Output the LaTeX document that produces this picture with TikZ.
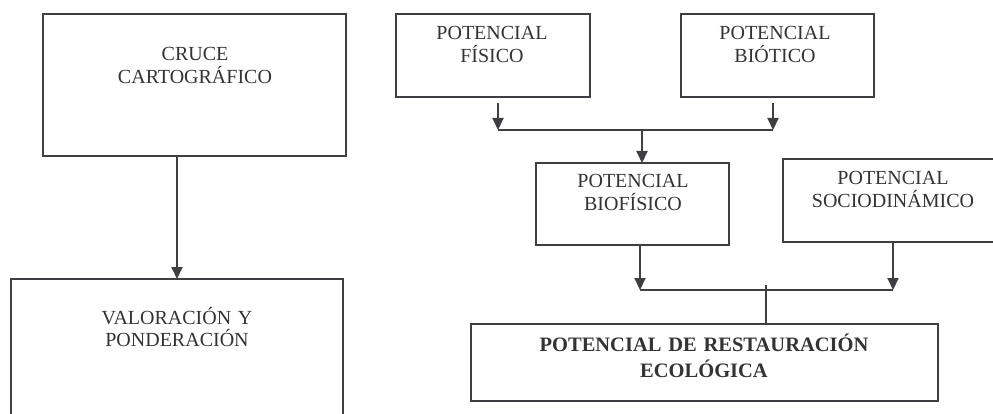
\documentclass[tikz,border=0pt]{standalone}
\usepackage{fontspec}
\setmainfont{Liberation Serif}
\usetikzlibrary{arrows.meta}
\definecolor{ln}{HTML}{3E3F43}
\definecolor{tx}{HTML}{333336}
\begin{document}
\begin{tikzpicture}[x=1pt,y=-1pt,
  box/.style={draw=ln, line width=2pt, outer sep=0pt, inner sep=0pt},
  txt/.style={text=tx, font=\fontsize{20}{22.5}\selectfont, align=center,
    anchor=base, inner sep=0pt, text width=260pt},
  btxt/.style={text=tx, font=\fontsize{20.5}{26}\selectfont\bfseries, align=center,
    anchor=base, inner sep=0pt, text width=440pt},
  conn/.style={draw=ln, line width=2pt},
  arr/.style={conn, -{Triangle[width=11pt,length=12pt]}}]
\useasboundingbox (0,0) rectangle (993,414);
% boxes
\node[box, minimum width=303pt, minimum height=142pt] (cruce) at (194.5,85) {};
\node[box, minimum width=332pt, minimum height=160pt] (valor) at (177,359) {};
\node[box, minimum width=194pt, minimum height=83pt] (fisico) at (493,55.5) {};
\node[box, minimum width=193pt, minimum height=83pt] (biotico) at (777.5,55.5) {};
\node[box, minimum width=193pt, minimum height=82pt] (biofis) at (632.5,204) {};
\node[box, minimum width=222pt, minimum height=83pt] (socio) at (894,200.5) {};
\node[box, minimum width=467pt, minimum height=77pt] (restaur) at (704.5,362.5) {};
% texts
\node[txt] (cruceT) at (195,61) {CRUCE\\CARTOGRÁFICO};
\node[txt] (valorT) at (177,324) {VALORACIÓN Y\\PONDERACIÓN};
\node[txt] (fisicoT) at (492,40) {POTENCIAL\\FÍSICO};
\node[txt] (bioticoT) at (775,40) {POTENCIAL\\BIÓTICO};
\node[txt] (biofisT) at (633,188) {POTENCIAL\\BIOFÍSICO};
\node[txt] (socioT) at (893,185) {POTENCIAL\\SOCIODINÁMICO};
\node[btxt] (restaurT) at (704,351) {POTENCIAL DE RESTAURACIÓN\\ECOLÓGICA};
% junction coordinates
\coordinate (ca) at (177,156);
\coordinate (j1) at (498,130);
\coordinate (j2) at (773,130);
\coordinate (j3) at (642,130);
\coordinate (k1) at (640,290);
\coordinate (k2) at (893,290);
\coordinate (k3) at (766,285);
% connectors
\draw[arr] (cruce.south -| ca) -- (valor.north -| ca);
\draw[arr, shorten <=6pt] (fisico.south -| j1) -- (j1);
\draw[arr, shorten <=6pt] (biotico.south -| j2) -- (j2);
\draw[conn] (j1) -- (j2);
\draw[arr] (j3) -- (biofis.north -| j3);
\draw[arr] (biofis.south -| k1) -- (k1);
\draw[arr] (socio.south -| k2) -- (k2);
\draw[conn] (k1) -- (k2);
\draw[conn] (k3) -- (restaur.north -| k3);
\end{tikzpicture}
\end{document}
